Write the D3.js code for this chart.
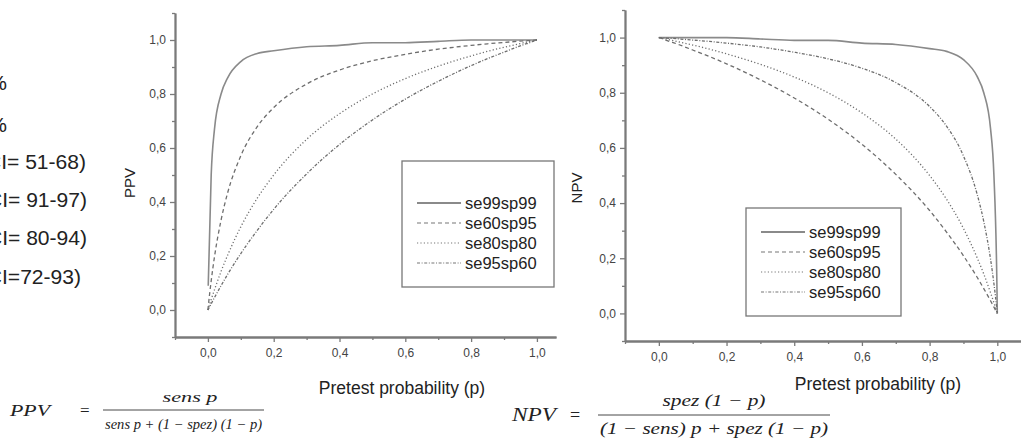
<!DOCTYPE html>
<html>
<head>
<meta charset="utf-8">
<script src="https://cdn.jsdelivr.net/npm/d3@7"></script>
<style>
  body { margin: 0; background: #fff; }
  svg { display: block; font-family: "Liberation Sans", Arial, sans-serif; }
</style>
</head>
<body>
<svg id="chart" width="1021" height="438"></svg>
<script>
// pretest probability grid (x values)
const pretest = [0, 0.001, 0.01, 0.02, 0.04, 0.06, 0.1, 0.15, 0.2, 0.3, 0.4, 0.5,
                 0.6, 0.7, 0.8, 0.85, 0.9, 0.94, 0.96, 0.98, 0.99, 0.999, 1];

const seriesNames = ['se99sp99', 'se60sp95', 'se80sp80', 'se95sp60'];

// PPV curves
const ppv99_99 = [null, 0.09, 0.50, 0.67, 0.80, 0.86, 0.92, 0.95, 0.96, 0.975, 0.98, 0.99,
                  0.99, 0.995, 1.00, 1.00, 1.00, 1.00, 1.00, 1.00, 1.00, 1.00, 1.00];
const ppv60_95 = [0, 0.012, 0.108, 0.197, 0.333, 0.434, 0.571, 0.679, 0.75, 0.837, 0.889, 0.923,
                  0.947, 0.966, 0.98, 0.986, 0.991, 0.995, 0.997, 0.998, 0.999, 1, 1];
const ppv80_80 = [0, 0.004, 0.039, 0.075, 0.143, 0.203, 0.308, 0.414, 0.5, 0.632, 0.727, 0.8,
                  0.857, 0.903, 0.941, 0.958, 0.973, 0.984, 0.99, 0.995, 0.997, 1, 1];
const ppv95_60 = [0, 0.002, 0.023, 0.046, 0.09, 0.132, 0.209, 0.295, 0.373, 0.504, 0.613, 0.704,
                  0.781, 0.847, 0.905, 0.931, 0.955, 0.974, 0.983, 0.991, 0.996, 1, 1];

// NPV curves
const npv99_99 = [1.00, 1.00, 1.00, 1.00, 1.00, 1.00, 1.00, 1.00, 1.00, 0.995, 0.99, 0.99,
                  0.98, 0.975, 0.96, 0.95, 0.92, 0.86, 0.80, 0.67, 0.50, 0.09, 0];
const npv60_95 = [1, 1, 0.996, 0.991, 0.983, 0.974, 0.955, 0.931, 0.905, 0.847, 0.781, 0.704,
                  0.613, 0.504, 0.373, 0.295, 0.209, 0.132, 0.09, 0.046, 0.023, 0.002, 0];
const npv80_80 = [1, 1, 0.997, 0.995, 0.99, 0.984, 0.973, 0.958, 0.941, 0.903, 0.857, 0.8,
                  0.727, 0.632, 0.5, 0.414, 0.308, 0.203, 0.143, 0.075, 0.039, 0.004, 0];
const npv95_60 = [1, 1, 0.999, 0.998, 0.997, 0.995, 0.991, 0.986, 0.98, 0.966, 0.947, 0.923,
                  0.889, 0.837, 0.75, 0.679, 0.571, 0.434, 0.333, 0.197, 0.108, 0.012, 0];

const majorTicks = [0, 0.2, 0.4, 0.6, 0.8, 1.0];
const minorTicks = [-0.1, 0.1, 0.3, 0.5, 0.7, 0.9, 1.1];

const sideNotes = ['Prävalenz 10%', 'Prävalenz 50%', 'Sensitivität 60% (95% CI= 51-68)',
                   'Spezifität 95% (95% CI= 91-97)', 'Sensitivität 88% (95% CI= 80-94)',
                   'Spezifität 84% (95% CI=72-93)'];

const dashes = {
    'se99sp99': null,
    'se60sp95': '4,3',
    'se80sp80': '1.2,2.2',
    'se95sp60': '3,1.6,1,1.6'
};

const svg = d3.select('#chart');
svg.append('rect').attr('width', 1021).attr('height', 438).attr('fill', '#fff');

const fmt = v => d3.format('.1f')(v).replace('.', ',');

function panel(cfg) {
    const x = d3.scaleLinear().domain(cfg.xDomain).range(cfg.xRange);
    const y = d3.scaleLinear().domain([-0.1, 1.1]).range(cfg.yRange);
    const g = svg.append('g');

    const style = sel => {
        sel.select('.domain').attr('stroke', '#7a7a7a').attr('stroke-width', 1.8);
        sel.selectAll('.tick line').attr('stroke', '#7a7a7a').attr('stroke-width', 1.3);
        sel.selectAll('.tick text').attr('fill', '#444').style('font-size', '12px');
    };

    // minor ticks first, major on top
    g.append('g').attr('transform', `translate(0,${cfg.yRange[0]})`)
        .call(d3.axisBottom(x).tickValues(minorTicks.filter(v => v <= cfg.xDomain[1]))
            .tickSize(3).tickSizeOuter(0).tickFormat(''))
        .call(style);
    g.append('g').attr('transform', `translate(0,${cfg.yRange[0]})`)
        .call(d3.axisBottom(x).tickValues(majorTicks).tickSize(5).tickSizeOuter(0)
            .tickPadding(6).tickFormat(fmt))
        .call(style);
    g.append('g').attr('transform', `translate(${cfg.xRange[0]},0)`)
        .call(d3.axisLeft(y).tickValues(minorTicks).tickSize(3).tickSizeOuter(0).tickFormat(''))
        .call(style);
    g.append('g').attr('transform', `translate(${cfg.xRange[0]},0)`)
        .call(d3.axisLeft(y).tickValues(majorTicks).tickSize(5).tickSizeOuter(0)
            .tickPadding(4).tickFormat(fmt))
        .call(style);

    const line = d3.line()
        .defined(d => d[1] !== null)
        .x(d => x(d[0]))
        .y(d => y(d[1]))
        .curve(d3.curveMonotoneX);

    cfg.values.forEach((vals, i) => {
        const name = seriesNames[i];
        g.append('path')
            .datum(pretest.map((p, j) => [p, vals[j]]))
            .attr('d', line)
            .attr('fill', 'none')
            .attr('stroke', name === 'se99sp99' ? '#8a8a8a' : '#6e6e6e')
            .attr('stroke-width', name === 'se99sp99' ? 1.6 : 1.3)
            .attr('stroke-dasharray', dashes[name]);
    });

    // axis titles
    g.append('text')
        .attr('transform', `translate(${cfg.yLabelX},${cfg.yLabelY}) rotate(-90)`)
        .attr('text-anchor', 'middle').attr('dominant-baseline', 'central')
        .attr('fill', '#222').style('font-size', '15px')
        .text(cfg.yLabel);
    g.append('text')
        .attr('x', cfg.xLabelX).attr('y', cfg.xLabelY)
        .attr('text-anchor', 'middle').attr('dominant-baseline', 'central')
        .attr('fill', '#222').style('font-size', '17.5px')
        .text('Pretest probability (p)');

    // legend
    const lg = g.append('g');
    lg.append('rect')
        .attr('x', cfg.legend.x).attr('y', cfg.legend.y)
        .attr('width', cfg.legend.w).attr('height', cfg.legend.h)
        .attr('fill', '#fff').attr('stroke', '#777').attr('stroke-width', 1.3);
    seriesNames.forEach((name, i) => {
        const yy = cfg.legend.y + cfg.legend.first + i * 20;
        lg.append('line')
            .attr('x1', cfg.legend.x + 15).attr('x2', cfg.legend.x + 59)
            .attr('y1', yy).attr('y2', yy)
            .attr('stroke', name === 'se99sp99' ? '#8a8a8a' : '#777')
            .attr('stroke-width', name === 'se99sp99' ? 1.8 : 1.2)
            .attr('stroke-dasharray', dashes[name]);
        lg.append('text')
            .attr('x', cfg.legend.x + 63).attr('y', yy)
            .attr('dominant-baseline', 'central')
            .attr('fill', '#222').style('font-size', '16.5px')
            .text(name);
    });
}

panel({
    xDomain: [-0.1, 1.058], xRange: [175, 556], yRange: [337, 13],
    values: [ppv99_99, ppv60_95, ppv80_80, ppv95_60],
    yLabel: 'PPV', yLabelX: 129, yLabelY: 183,
    xLabelX: 402, xLabelY: 388,
    legend: {x: 402, y: 161, w: 152, h: 126, first: 42}
});

panel({
    xDomain: [-0.1, 1.07], xRange: [625, 1021], yRange: [341, 10],
    values: [npv99_99, npv60_95, npv80_80, npv95_60],
    yLabel: 'NPV', yLabelX: 576, yLabelY: 188,
    xLabelX: 878, xLabelY: 384,
    legend: {x: 746, y: 208, w: 155, h: 108, first: 24}
});

// notes cut at the left edge, as in the source figure
const noteEnds = [7, 7, 86, 87, 87, 81];
const noteYs = [83, 125, 162, 200, 238, 277];
svg.append('g').selectAll('text')
    .data(sideNotes)
    .join('text')
    .attr('transform', (d, i) => `translate(${noteEnds[i]},${noteYs[i]}) scale(1.08,1)`)
    .attr('text-anchor', 'end')
    .attr('dominant-baseline', 'central')
    .attr('fill', '#222')
    .style('font-size', '19.5px')
    .text(d => d);

// formulas
function formula(f) {
    const g = svg.append('g')
        .style('font-family', '"Liberation Serif", "DejaVu Serif", serif')
        .style('font-style', 'italic').attr('fill', '#222');
    g.append('text').attr('x', f.lhsX).attr('y', f.barY)
        .attr('dominant-baseline', 'central').style('font-size', f.lhsSize + 'px')
        .attr('textLength', f.lhsW).attr('lengthAdjust', 'spacingAndGlyphs').text(f.lhs);
    g.append('text').attr('x', f.eqX).attr('y', f.barY)
        .attr('dominant-baseline', 'central').style('font-size', f.lhsSize + 'px')
        .style('font-style', 'normal').text('=');
    g.append('line').attr('x1', f.x0).attr('x2', f.x1)
        .attr('y1', f.barY).attr('y2', f.barY)
        .attr('stroke', '#333').attr('stroke-width', 0.9);
    g.append('text').attr('x', f.numX).attr('y', f.numY)
        .attr('text-anchor', 'middle').attr('dominant-baseline', 'central')
        .style('font-size', f.size + 'px')
        .attr('textLength', f.numW).attr('lengthAdjust', 'spacingAndGlyphs').text(f.num);
    g.append('text').attr('x', (f.x0 + f.x1) / 2).attr('y', f.denY)
        .attr('text-anchor', 'middle').attr('dominant-baseline', 'central')
        .style('font-size', f.size + 'px')
        .attr('textLength', f.denW).attr('lengthAdjust', 'spacingAndGlyphs').text(f.den);
}

formula({lhs: 'PPV', lhsX: 10, lhsW: 40, eqX: 80, lhsSize: 17, x0: 103, x1: 264, barY: 410,
         size: 14, numX: 190, numY: 397, numW: 55, denY: 424, denW: 157,
         num: 'sens p', den: 'sens p + (1 − spez) (1 − p)'});
formula({lhs: 'NPV', lhsX: 512, lhsW: 44, eqX: 570, lhsSize: 18, x0: 598, x1: 830, barY: 415,
         size: 16, numX: 714, numY: 400, numW: 103, denY: 428, denW: 228,
         num: 'spez (1 − p)', den: '(1 − sens) p + spez (1 − p)'});
</script>
</body>
</html>
